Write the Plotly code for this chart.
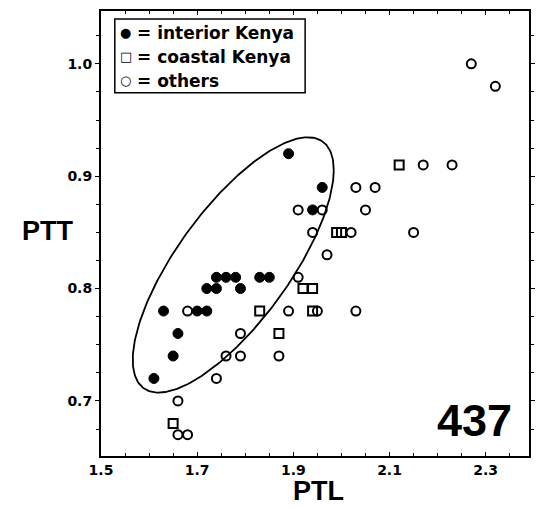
import numpy as np
import plotly.graph_objects as go

# interior Kenya (filled circles)
int_x = [1.61, 1.65, 1.66, 1.63, 1.70, 1.72, 1.72, 1.74, 1.79, 1.74, 1.76, 1.78, 1.83, 1.85, 1.89, 1.96, 1.94]
int_y = [0.72, 0.74, 0.76, 0.78, 0.78, 0.78, 0.80, 0.80, 0.80, 0.81, 0.81, 0.81, 0.81, 0.81, 0.92, 0.89, 0.87]

# coastal Kenya (open squares)
coa_x = [1.65, 1.83, 1.92, 1.94, 1.94, 1.87, 1.99, 2.00, 2.12]
coa_y = [0.68, 0.78, 0.80, 0.80, 0.78, 0.76, 0.85, 0.85, 0.91]

# others (open circles)
oth_x = [1.66, 1.66, 1.68, 1.68, 1.74, 1.76, 1.79, 1.79, 1.87, 1.89, 1.95, 2.03, 1.91, 1.91, 1.96,
         1.94, 1.97, 2.03, 2.07, 2.05, 2.02, 2.17, 2.23, 2.15, 2.27, 2.32]
oth_y = [0.70, 0.67, 0.67, 0.78, 0.72, 0.74, 0.74, 0.76, 0.74, 0.78, 0.78, 0.78, 0.81, 0.87, 0.87,
         0.85, 0.83, 0.89, 0.89, 0.87, 0.85, 0.91, 0.91, 0.85, 1.00, 0.98]

x_ticks = [1.5, 1.7, 1.9, 2.1, 2.3]
y_ticks = [0.7, 0.8, 0.9, 1.0]

legend_symbols = ["\u25cf", "\u25a1", "\u25cb"]
legend_labels = ["= interior Kenya", "= coastal Kenya", "= others"]

# ellipse parameters (center, half-extent, phase)
ell_cx, ell_cy = 1.775, 0.821
ell_sx, ell_sy = 0.209, 0.1136
ell_phi = 0.733

t = np.linspace(0, 2 * np.pi, 300)
ex = ell_cx + ell_sx * np.cos(t)
ey = ell_cy + ell_sy * np.cos(t - ell_phi)

font_b = "Liberation Sans"
font_d = "DejaVu Sans"

fig = go.Figure()
fig.add_trace(go.Scatter(x=ex, y=ey, mode="lines", line=dict(color="black", width=1.8),
                         showlegend=False, hoverinfo="skip"))
fig.add_trace(go.Scatter(x=int_x, y=int_y, mode="markers", name="interior Kenya",
                         marker=dict(symbol="circle", size=10, color="black",
                                     line=dict(color="black", width=1))))
fig.add_trace(go.Scatter(x=coa_x, y=coa_y, mode="markers", name="coastal Kenya",
                         marker=dict(symbol="square-open", size=9, color="black",
                                     line=dict(color="black", width=2))))
fig.add_trace(go.Scatter(x=oth_x, y=oth_y, mode="markers", name="others",
                         marker=dict(symbol="circle-open", size=9, color="black",
                                     line=dict(color="black", width=2))))

# plot-area pixel geometry helpers (for legend box/annotations)
L, R, T, B, W, H = 101, 9, 10, 52, 544, 508
pw, ph = W - L - R, H - T - B


def px(xp):
    return (xp - L) / pw


def py(yp):
    return (H - B - yp) / ph


annotations = []
row_y = [32, 56, 80]
for sym, lab, yy in zip(legend_symbols, legend_labels, row_y):
    annotations.append(dict(text=sym, x=px(126), y=py(yy), xref="paper", yref="paper",
                            xanchor="center", yanchor="middle", showarrow=False,
                            font=dict(size=13, family=font_d, color="black")))
    annotations.append(dict(text=lab, x=px(135), y=py(yy), xref="paper", yref="paper",
                            xanchor="left", yanchor="middle", showarrow=False,
                            font=dict(size=17, family=font_d, weight="bold")))
annotations.append(dict(text="437", x=px(520), y=py(420), xref="paper", yref="paper",
                        xanchor="right", yanchor="middle", showarrow=False,
                        font=dict(size=45, family=font_b, weight="bold")))
annotations.append(dict(text="PTL", x=px(322), y=py(491), xref="paper", yref="paper",
                        xanchor="center", yanchor="middle", showarrow=False,
                        font=dict(size=27, family=font_b, weight="bold")))
annotations.append(dict(text="PTT", x=px(47), y=py(230), xref="paper", yref="paper",
                        xanchor="center", yanchor="middle", showarrow=False,
                        font=dict(size=27, family=font_b, weight="bold")))

fig.update_layout(
    width=W, height=H,
    margin=dict(l=L, r=R, t=T, b=B),
    paper_bgcolor="white", plot_bgcolor="white",
    font=dict(family=font_b, color="black", size=14),
    showlegend=False,
    xaxis=dict(range=[1.5, 2.39], tickvals=x_ticks, ticktext=[f"<b>{v:.1f}</b>" for v in x_ticks],
               showgrid=False, zeroline=False, showline=True, linecolor="black", linewidth=2,
               mirror="ticks", ticks="inside", ticklen=4, tickcolor="black",
               minor=dict(dtick=0.05, ticks="inside", ticklen=3, tickcolor="black", showgrid=False)),
    yaxis=dict(range=[0.651, 1.047], tickvals=y_ticks, ticktext=[f"<b>{v:.1f}</b>" for v in y_ticks],
               showgrid=False, zeroline=False, showline=True, linecolor="black", linewidth=2,
               mirror="ticks", ticks="outside", ticklen=4, tickcolor="black",
               minor=dict(dtick=0.025, ticks="outside", ticklen=3, tickcolor="black", showgrid=False)),
    shapes=[dict(type="rect", xref="paper", yref="paper", x0=px(115), x1=px(308),
                 y0=py(92), y1=py(18), line=dict(color="black", width=1.5), fillcolor="white",
                 layer="below")],
    annotations=annotations,
)
fig.update_xaxes(tickfont=dict(size=14, family=font_d, color="black"))
fig.update_yaxes(tickfont=dict(size=14, family=font_d, color="black"))

fig.write_html("out.html")
